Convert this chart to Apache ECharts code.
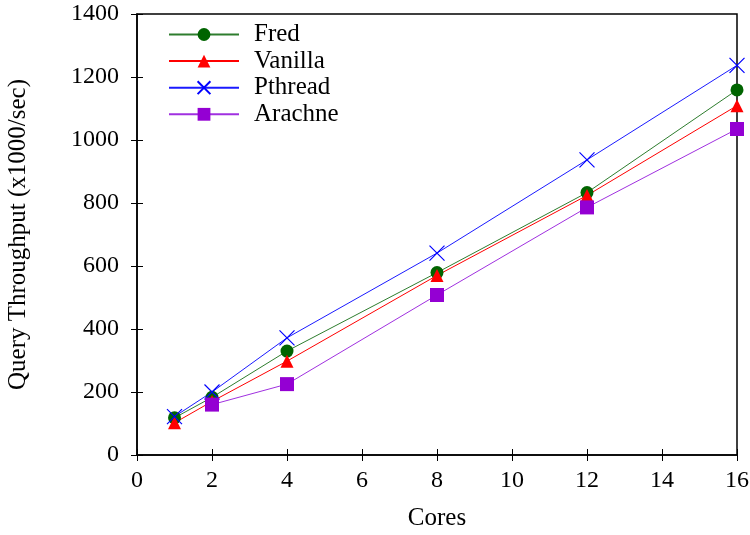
<!DOCTYPE html>
<html>
<head>
<meta charset="utf-8">
<script src="https://cdn.jsdelivr.net/npm/echarts@6/dist/echarts.min.js"></script>
<style>
  html, body { margin: 0; padding: 0; background: #fff; }
  #chart { width: 750px; height: 535px; }
</style>
</head>
<body>
<div id="chart"></div>
<script>
// Query throughput (x1000/sec) by core count
const cores = [1, 2, 4, 8, 12, 16];
const fred = [118, 183, 330, 579, 833, 1159];
const vanilla = [102, 170, 298, 570, 824, 1109];
const pthread = [122, 200, 372, 641, 937, 1237];
const arachne = [null, 160, 225, 508, 786, 1035];
const seriesNames = ['Fred', 'Vanilla', 'Pthread', 'Arachne'];

const FONT = 'Liberation Serif';

function pairs(values) {
  return cores.map((c, i) => [c, values[i]]).filter(p => p[1] !== null);
}

const chart = echarts.init(document.getElementById('chart'), null, { renderer: 'canvas' });

const tickStyle = { show: true, inside: true, length: 6, lineStyle: { color: '#000', width: 1 } };
const plain = v => String(v);

chart.setOption({
  animation: false,
  backgroundColor: '#fff',
  grid: {
    left: 137, right: 13, top: 14, bottom: 80,
    outerBoundsMode: 'none', containLabel: false,
    show: true, borderColor: '#000', borderWidth: 1.5, backgroundColor: 'transparent'
  },
  legend: {
    orient: 'vertical',
    left: 163, top: 17,
    itemWidth: 70, itemHeight: 16, itemGap: 1.6,
    data: seriesNames,
    textStyle: { fontFamily: FONT, fontSize: 25, lineHeight: 25, color: '#000', padding: [0, 0, 0, 10] }
  },
  xAxis: [{
    type: 'value', min: 0, max: 16, interval: 2,
    name: 'Cores', nameLocation: 'middle', nameGap: 51,
    nameTextStyle: { fontFamily: FONT, fontSize: 25, color: '#000' },
    axisLine: { show: true, lineStyle: { color: '#000', width: 1.5 } },
    axisTick: tickStyle,
    axisLabel: { fontFamily: FONT, fontSize: 24, color: '#000', margin: 14, formatter: plain },
    splitLine: { show: false }
  }, {
    type: 'value', min: 0, max: 16, interval: 2, position: 'top',
    axisLine: { show: false }, axisTick: tickStyle,
    axisLabel: { show: false }, splitLine: { show: false }
  }],
  yAxis: [{
    type: 'value', min: 0, max: 1400, interval: 200,
    name: 'Query Throughput (x1000/sec)', nameLocation: 'middle', nameGap: 106,
    nameTextStyle: { fontFamily: FONT, fontSize: 25, color: '#000' },
    axisLine: { show: true, lineStyle: { color: '#000', width: 1.5 } },
    axisTick: tickStyle,
    axisLabel: { fontFamily: FONT, fontSize: 24, color: '#000', margin: 18, formatter: plain },
    splitLine: { show: false }
  }, {
    type: 'value', min: 0, max: 1400, interval: 200, position: 'right',
    axisLine: { show: false }, axisTick: tickStyle,
    axisLabel: { show: false }, splitLine: { show: false }
  }],
  series: [
    {
      name: 'Fred', type: 'line', data: pairs(fred),
      symbol: 'circle', symbolSize: 13,
      lineStyle: { color: '#2e7d2e', width: 1 },
      itemStyle: { color: '#006400' }
    },
    {
      name: 'Vanilla', type: 'line', data: pairs(vanilla),
      symbol: 'triangle', symbolSize: 13,
      lineStyle: { color: '#ff0000', width: 1 },
      itemStyle: { color: '#ff0000' }
    },
    {
      name: 'Pthread', type: 'line', data: pairs(pthread),
      symbol: 'path://M0,0L10,10M10,0L0,10', symbolSize: 15,
      lineStyle: { color: '#1a1aff', width: 1 },
      itemStyle: { color: 'rgba(0,0,0,0)', borderColor: '#0000ff', borderWidth: 1.2 }
    },
    {
      name: 'Arachne', type: 'line', data: pairs(arachne),
      symbol: 'rect', symbolSize: 14,
      lineStyle: { color: '#a030e0', width: 1 },
      itemStyle: { color: '#9400d3' }
    }
  ]
});
</script>
</body>
</html>
